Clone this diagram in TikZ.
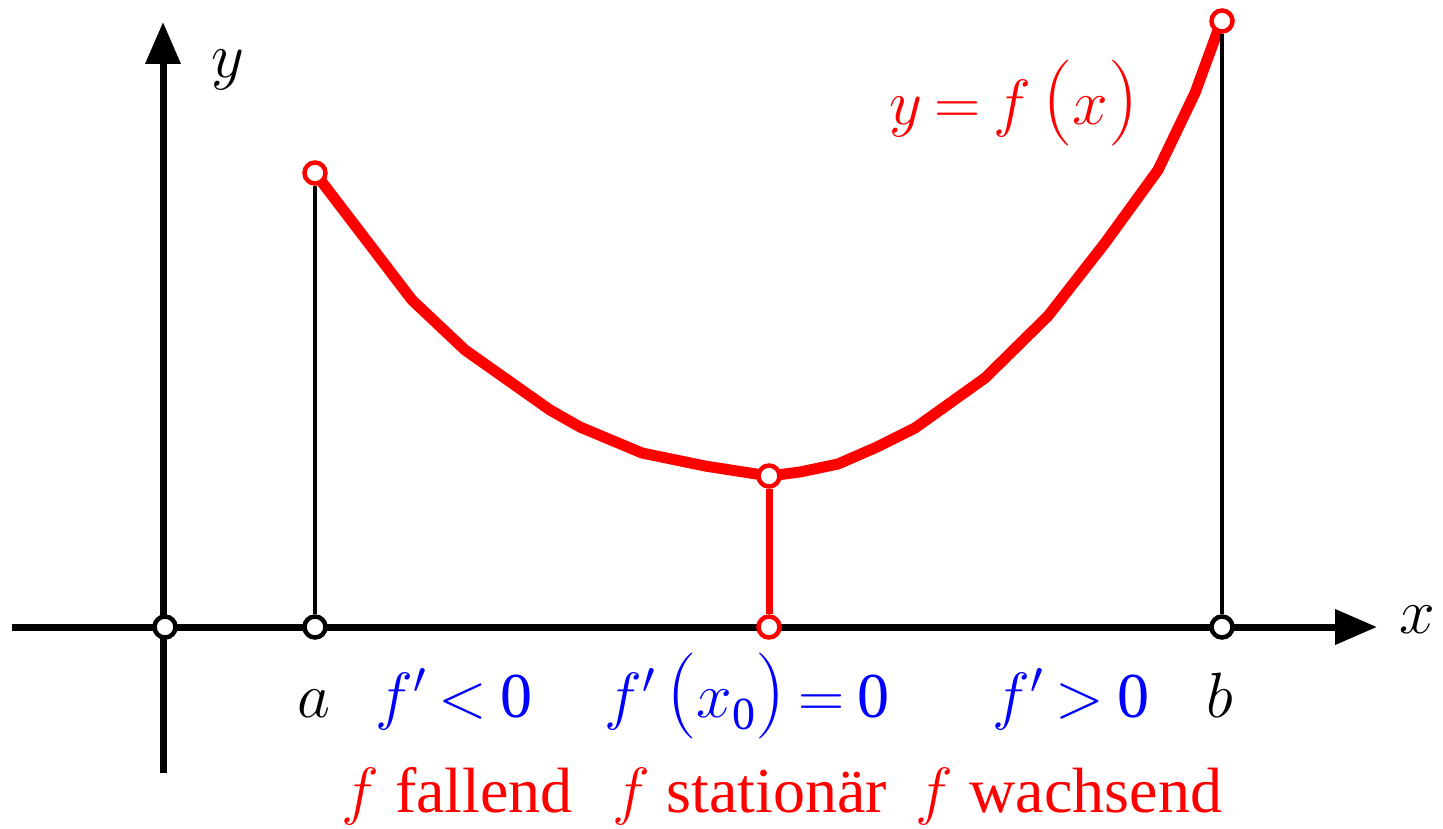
\documentclass[tikz,border=0pt]{standalone}
\usepackage{fix-cm}
\usepackage{fontspec}
\newfontfamily\txtfont{Liberation Serif}
\usetikzlibrary{arrows.meta}
\definecolor{pred}{RGB}{255,0,0}
\definecolor{pblue}{RGB}{0,0,255}
\newcommand{\rel}[1]{\hspace{0.2em}$#1$\hspace{0.2em}}
\newcommand{\fpr}{$f'$}
\newcommand{\bigp}[1]{{\fontsize{86}{86}\selectfont$#1$}}
\begin{document}
\begin{tikzpicture}[x=1pt,y=-1pt,
  axis/.style={line width=7pt,-{Triangle[length=42pt,width=34pt]}},
  curve/.style={pred,line width=11pt,line join=round},
  drop/.style={black,line width=4pt},
  dotb/.style={circle,draw=black,fill=white,line width=4.5pt,minimum size=21pt,inner sep=0pt},
  dotr/.style={circle,draw=pred,fill=white,line width=4.5pt,minimum size=21pt,inner sep=0pt},
  lbl/.style={anchor=base,inner sep=0pt,font=\fontsize{64}{72}\txtfont\selectfont},
]
\useasboundingbox (0,0) rectangle (1443,829);
% axes
\coordinate (xs) at (12,627);
\coordinate (xe) at (1377,627);
\coordinate (ys) at (163,773);
\coordinate (ye) at (163,22);
\draw[axis] (xs) -- (xe);
\draw[axis] (ys) -- (ye);
% curve
\draw[curve] (315,173) -- (412,300) -- (465,350) -- (550,410) -- (580,427) -- (642,453) -- (705,466) -- (769,476) -- (800,472) -- (838,464) -- (877,447) -- (915,428) -- (985,378) -- (1048,316) -- (1105,243) -- (1158,170) -- (1195,93) -- (1221,22);
% points
\node[dotb] (o) at (165,627) {};
\node[dotb] (a) at (315,627) {};
\node[dotb] (b) at (1222,627) {};
\node[dotr] (x0) at (769,627) {};
\node[dotr] (fa) at (315,173) {};
\node[dotr] (fb) at (1222,21) {};
\node[dotr] (fx0) at (769,476) {};
\draw[drop] (fa) -- (a);
\draw[drop] (fb) -- (b);
\draw[pred,line width=7pt] (fx0) -- (x0);
% labels
\node[lbl] (ly) at (228,78) {$y$};
\node[lbl] (lx) at (1417,633) {$x$};
\node[lbl] (la) at (314,717) {$a$};
\node[lbl] (lb) at (1220,717) {$b$};
\node[lbl,pblue] (l1) at (454,717) {\fpr\rel{<}0};
\node[lbl,pblue] (l2) at (747,717) {\fpr\,\bigp{(}$x$\raisebox{-12pt}{\fontsize{46}{46}\txtfont\selectfont 0}\bigp{)}\rel{=}0};
\node[lbl,pblue] (l3) at (1071,717) {\fpr\rel{>}0};
\node[lbl,pred] (t1) at (457,812) {$f$ fallend};
\node[lbl,pred] (t2) at (750,812) {$f$ stationär};
\node[lbl,pred] (t3) at (1069,812) {$f$ wachsend};
\node[lbl,pred] (eq) at (1014,125) {$y$\rel{=}$f$\,\bigp{(}$x$\bigp{)}};
\end{tikzpicture}
\end{document}
